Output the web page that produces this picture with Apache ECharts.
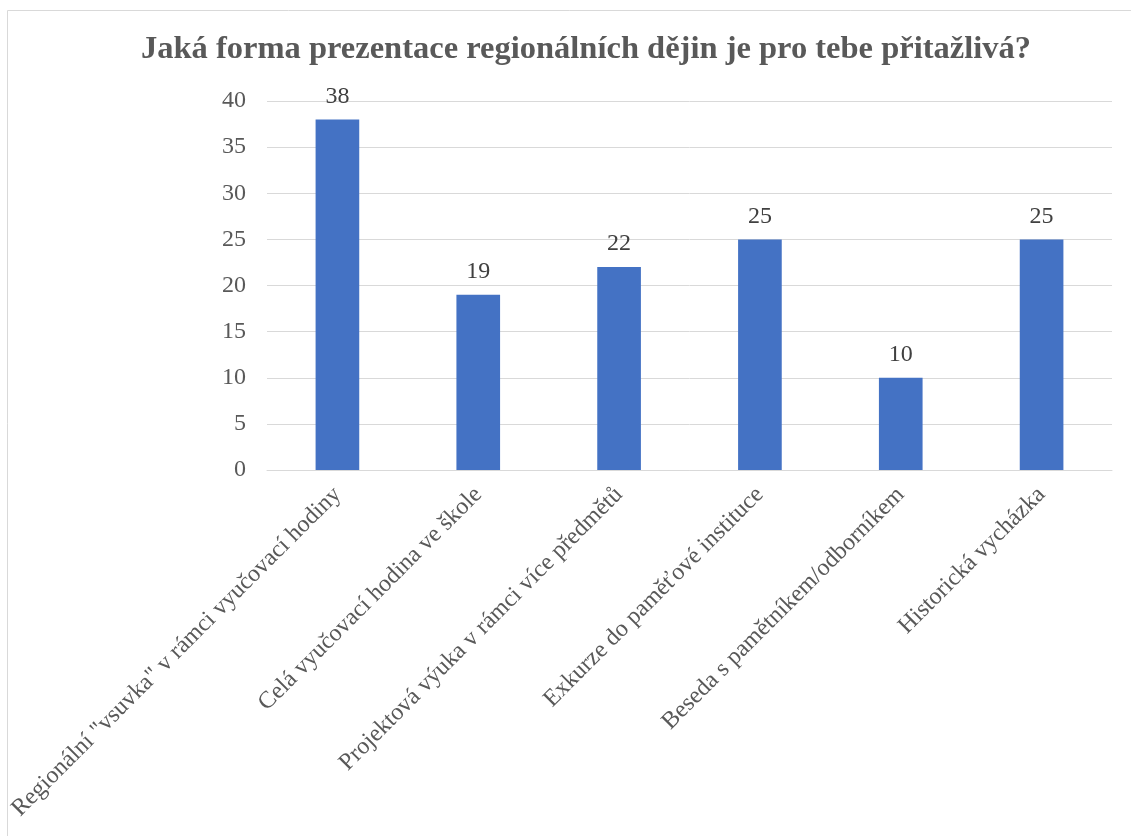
<!DOCTYPE html>
<html><head><meta charset="utf-8">
<script src="https://cdn.jsdelivr.net/npm/echarts@6/dist/echarts.min.js"></script>
<style>html,body{margin:0;padding:0;background:#fff}#c{width:1131px;height:836px}</style>
</head><body><div id="c"></div>
<script>
const title = 'Jaká forma prezentace regionálních dějin je pro tebe přitažlivá?';
const categories = ['Regionální "vsuvka" v rámci vyučovací hodiny','Celá vyučovací hodina ve škole','Projektová výuka v rámci více předmětů','Exkurze do paměťové instituce','Beseda s pamětníkem/odborníkem','Historická vycházka'];
const values = [38, 19, 22, 25, 10, 25];
const yMin = 0, yMax = 40, yStep = 5;
const serif = '"Liberation Serif","Times New Roman",serif';
const chart = echarts.init(document.getElementById('c'));
chart.setOption({
  animation:false,
  title:{text:title,left:136,top:28,textStyle:{fontFamily:serif,fontSize:32.5,fontWeight:'bold',color:'#595959'}},
  grid:{left:267,right:19,top:101,bottom:366,containLabel:false},
  graphic:[
    {type:'line',shape:{x1:7.5,y1:10.5,x2:1131,y2:10.5},style:{stroke:'#d9d9d9',lineWidth:1}},
    {type:'line',shape:{x1:7.5,y1:10.5,x2:7.5,y2:836},style:{stroke:'#d9d9d9',lineWidth:1}}
  ],
  xAxis:{type:'category',data:categories,axisTick:{show:false},
    axisLine:{lineStyle:{color:'#d9d9d9',width:1}},
    axisLabel:{rotate:45,interval:0,margin:21,fontFamily:serif,fontSize:24,color:'#595959'}},
  yAxis:{type:'value',min:yMin,max:yMax,interval:yStep,axisLine:{show:false},axisTick:{show:false},
    splitLine:{lineStyle:{color:'#d9d9d9',width:1}},
    axisLabel:{margin:21,fontFamily:serif,fontSize:24,color:'#595959'}},
  series:[{type:'bar',data:values,barWidth:'31%',itemStyle:{color:'#4472C4'},
    label:{show:true,position:'top',distance:11,fontFamily:serif,fontSize:24,color:'#404040'}}]
});
</script></body></html>
